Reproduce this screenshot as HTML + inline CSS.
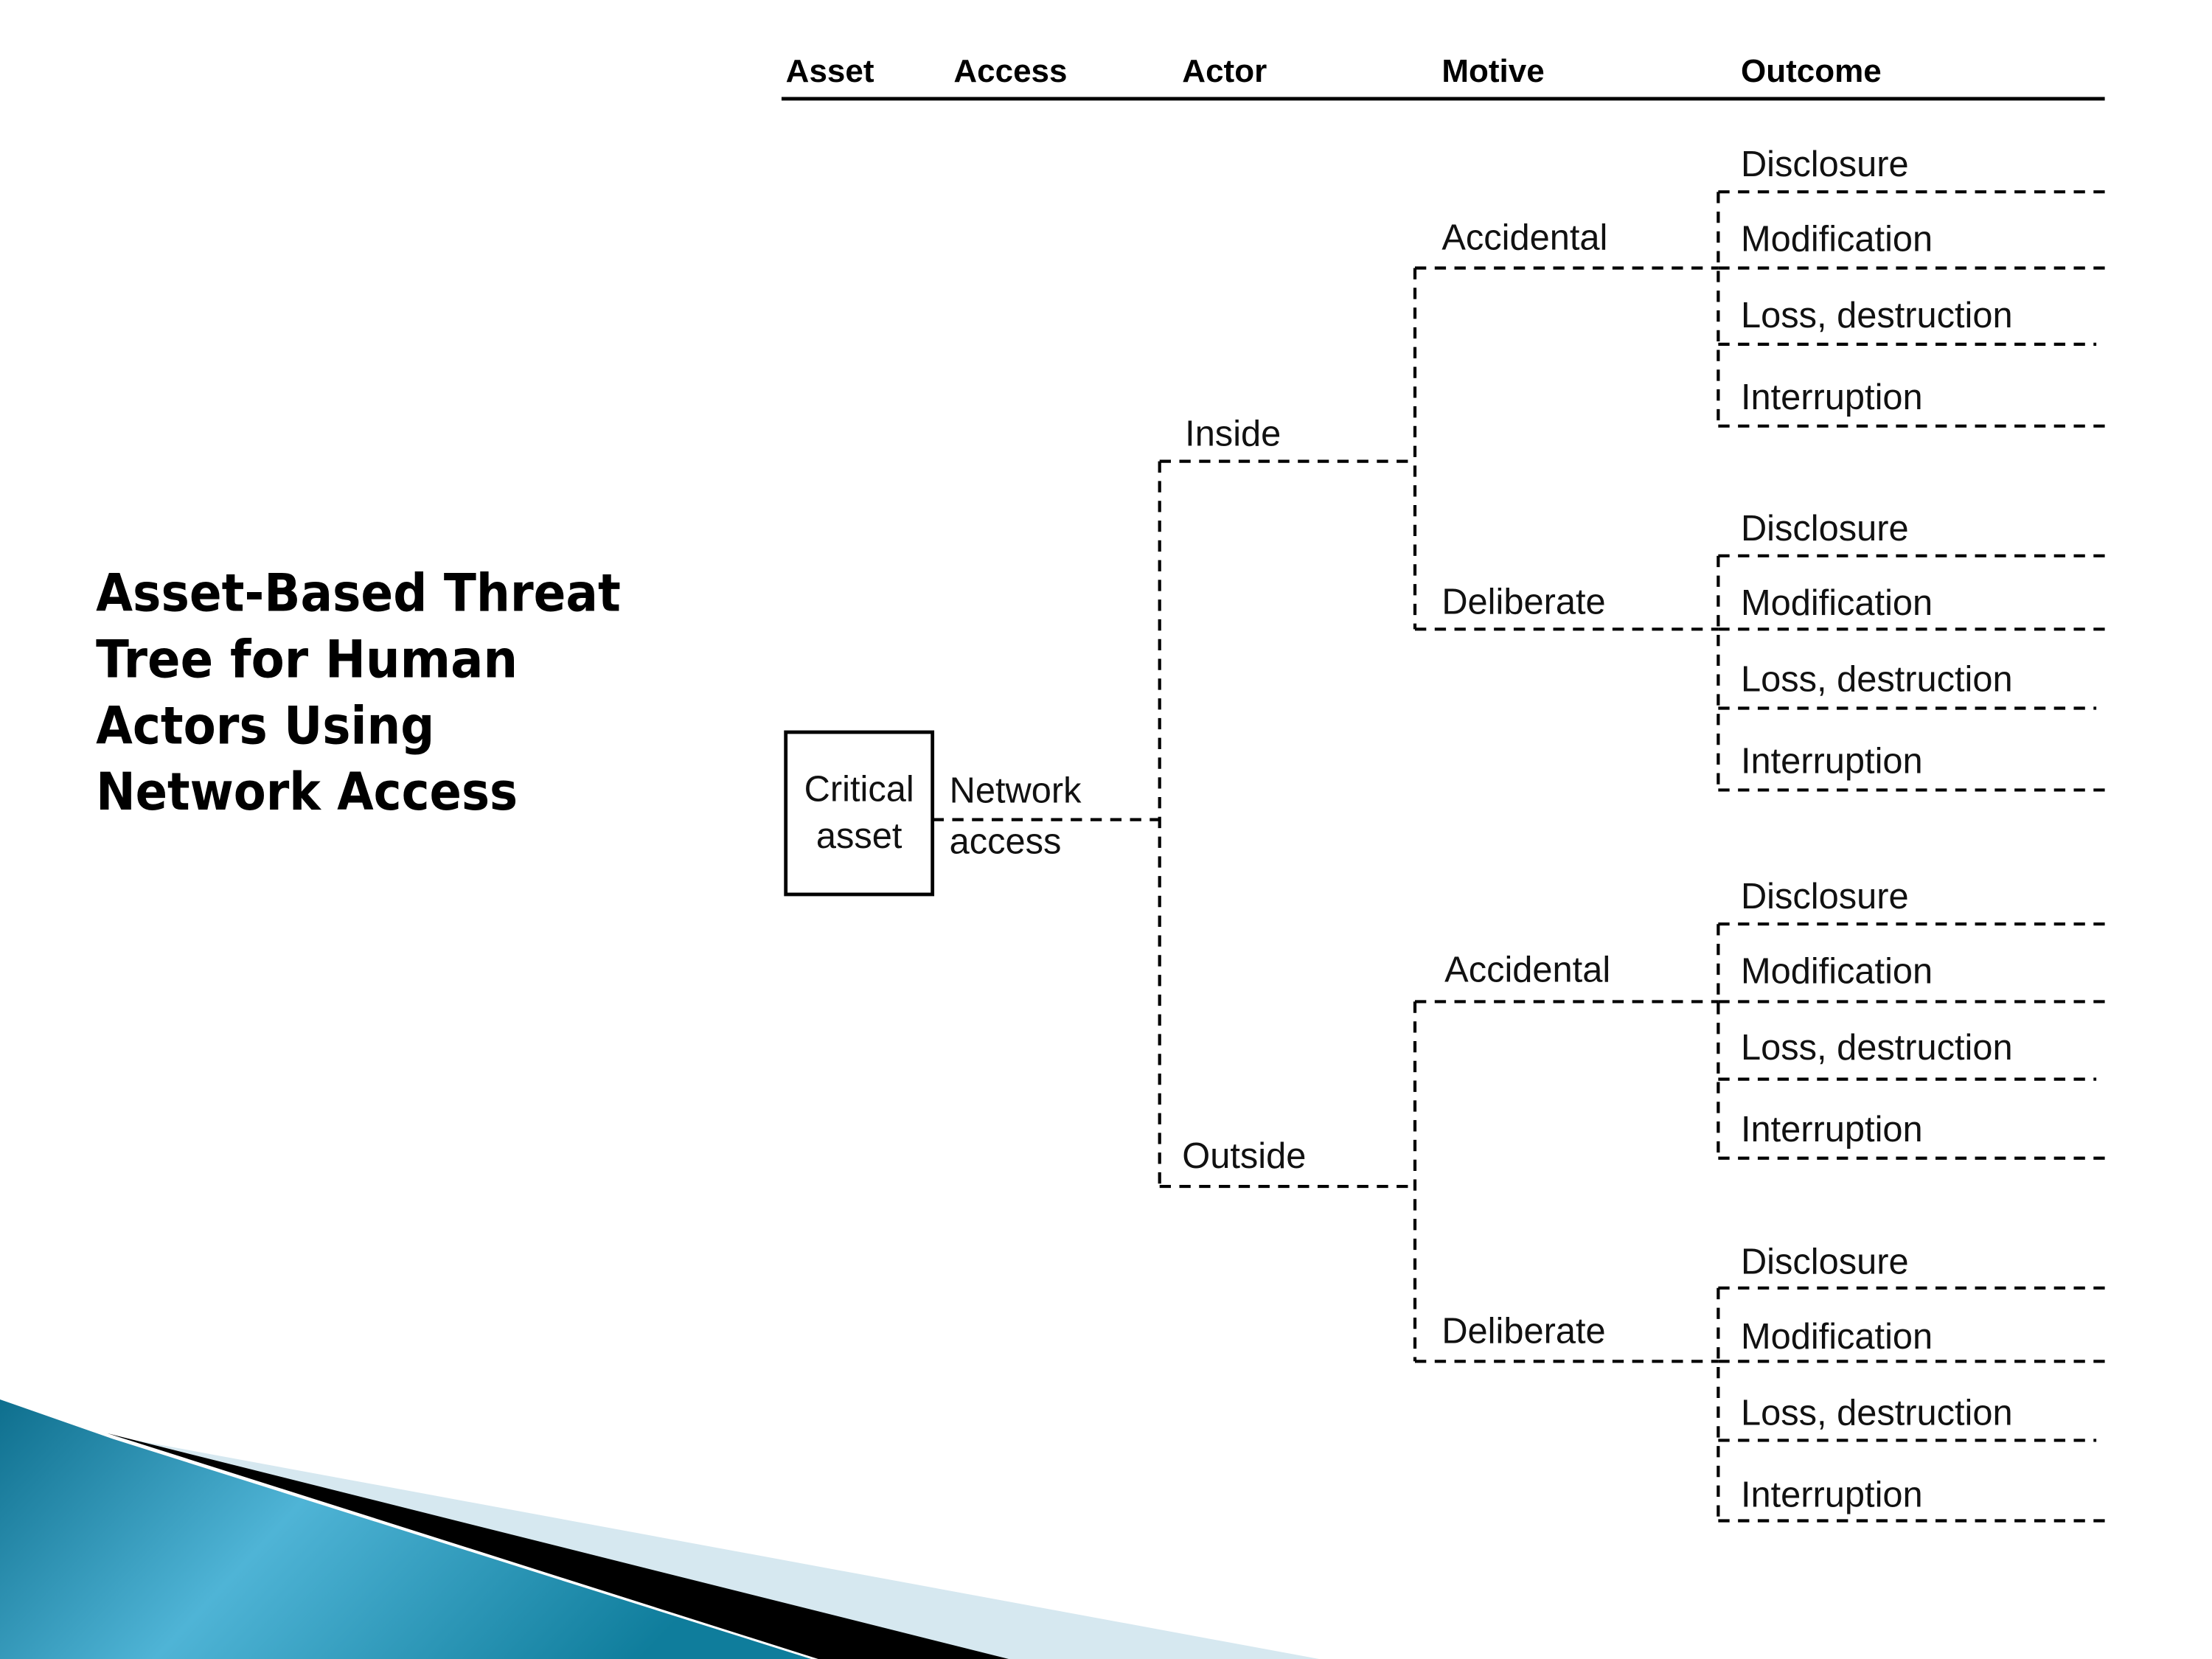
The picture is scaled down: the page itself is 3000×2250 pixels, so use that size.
<!DOCTYPE html>
<html><head><meta charset="utf-8"><style>
html,body{margin:0;padding:0;background:#fff;}
svg{display:block;}
</style></head><body>
<svg width="3000" height="2250" viewBox="0 0 1568 1176" preserveAspectRatio="none" xmlns="http://www.w3.org/2000/svg">
<defs>
<linearGradient id="tg" x1="0" y1="0" x2="1" y2="0.3">
<stop offset="0" stop-color="#0e6f8e"/><stop offset="0.45" stop-color="#4fb4d6"/><stop offset="1" stop-color="#0f7d9c"/>
</linearGradient>
</defs>
<polygon points="80,1018 935,1176 700,1176" fill="#d6e8f0"/>
<polygon points="76,1016 715,1176 580,1176" fill="#000"/>
<polygon points="0,992 80,1020 575,1176 0,1176" fill="url(#tg)"/>

<g font-family="'DejaVu Sans',sans-serif" font-weight="bold" font-size="37" fill="#000">
<text x="68" y="433" textLength="372" lengthAdjust="spacingAndGlyphs">Asset-Based Threat</text>
<text x="68" y="480" textLength="299" lengthAdjust="spacingAndGlyphs">Tree for Human</text>
<text x="68" y="527" textLength="240" lengthAdjust="spacingAndGlyphs">Actors Using</text>
<text x="68" y="574" textLength="299" lengthAdjust="spacingAndGlyphs">Network Access</text>
</g>

<g font-family="'Liberation Sans',sans-serif" font-weight="bold" font-size="23" fill="#000">
<text x="557" y="58">Asset</text>
<text x="676" y="58">Access</text>
<text x="838" y="58">Actor</text>
<text x="1022" y="58">Motive</text>
<text x="1234" y="58">Outcome</text>
</g>
<line x1="554" y1="70" x2="1492" y2="70" stroke="#000" stroke-width="2.5"/>

<rect x="557" y="519" width="104" height="115" fill="none" stroke="#000" stroke-width="2.5"/>
<g font-family="'Liberation Sans',sans-serif" font-size="25.5" fill="#111">
<text x="609" y="568" text-anchor="middle">Critical</text>
<text x="609" y="601" text-anchor="middle">asset</text>
<text x="673" y="569">Network</text>
<text x="673" y="605">access</text>
<text x="840" y="316">Inside</text>
<text x="838" y="828">Outside</text>
<text x="1022" y="177">Accidental</text>
<text x="1022" y="435">Deliberate</text>
<text x="1024" y="696">Accidental</text>
<text x="1022" y="952">Deliberate</text>

<text x="1234" y="125">Disclosure</text><text x="1234" y="178">Modification</text><text x="1234" y="232">Loss, destruction</text><text x="1234" y="290">Interruption</text>
<text x="1234" y="383">Disclosure</text><text x="1234" y="436">Modification</text><text x="1234" y="490">Loss, destruction</text><text x="1234" y="548">Interruption</text>
<text x="1234" y="644">Disclosure</text><text x="1234" y="697">Modification</text><text x="1234" y="751">Loss, destruction</text><text x="1234" y="809">Interruption</text>
<text x="1234" y="903">Disclosure</text><text x="1234" y="956">Modification</text><text x="1234" y="1010">Loss, destruction</text><text x="1234" y="1068">Interruption</text>
</g>

<g stroke="#000" stroke-width="2.2" stroke-dasharray="8,6" fill="none">
<path d="M661 581H822"/>
<path d="M822 327V841"/>
<path d="M822 327H1003M822 841H1003"/>
<path d="M1003 190V446M1003 710V965"/>
<path d="M1003 190H1218M1003 446H1218M1003 710H1218M1003 965H1218"/>
<path d="M1218 136V302M1218 394V560M1218 655V821M1218 913V1078"/>
<path d="M1218 136H1492M1218 190H1492M1218 244H1486M1218 302H1492"/>
<path d="M1218 394H1492M1218 446H1492M1218 502H1486M1218 560H1492"/>
<path d="M1218 655H1492M1218 710H1492M1218 765H1486M1218 821H1492"/>
<path d="M1218 913H1492M1218 965H1492M1218 1021H1486M1218 1078H1492"/>
</g>
</svg>
</body></html>
